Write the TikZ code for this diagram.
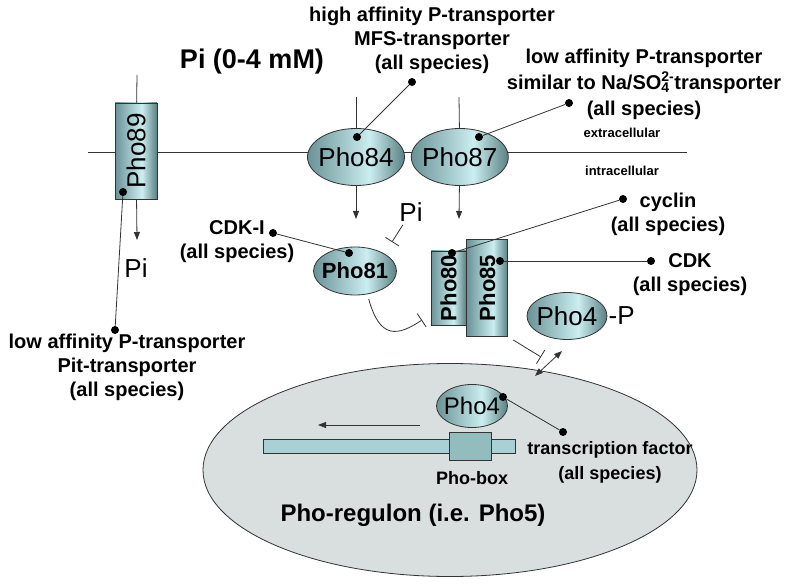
\documentclass[tikz,border=0pt]{standalone}
\usepackage{fontspec}
\setmainfont{Liberation Sans}
\usetikzlibrary{shapes.geometric,arrows.meta,positioning}
\definecolor{phoDark}{HTML}{6A9397}
\definecolor{phoLight}{HTML}{CBEEF0}
\definecolor{phoEdge}{HTML}{5A8083}
\definecolor{nucFill}{HTML}{D9DEDF}
\definecolor{dnaFill}{HTML}{A9D1D5}
\definecolor{boxFill}{HTML}{93BCBE}
\definecolor{lineGray}{HTML}{333333}
\pgfdeclarehorizontalshading{phoShade}{100bp}{color(0bp)=(phoDark); color(25bp)=(phoDark); color(57bp)=(phoLight); color(75bp)=(phoEdge); color(100bp)=(phoEdge)}
\tikzset{
    protein/.style = {draw=lineGray, ellipse, inner sep=0pt,
        shading=phoShade, line width=0.8pt},
    channel/.style = {draw=lineGray, rectangle, inner sep=0pt,
        shading=phoShade, line width=0.8pt},
    dot/.style = {circle, fill=black, inner sep=0pt, minimum size=8pt},
    lbl/.style = {align=center, font=\bfseries\fontsize{20}{24}\selectfont},
    big/.style = {font=\fontsize{26}{30}\selectfont},
    conn/.style = {draw=lineGray, line width=0.8pt},
    inhib/.style = {conn, -{Bar[width=16pt]}},
}

\begin{document}
\begin{tikzpicture}[x=1pt, y=-1pt, >={Triangle[length=8pt,width=6pt]}]
    \useasboundingbox (0,0) rectangle (800,585);
    % nucleus
    \node [draw=lineGray, fill=nucFill, ellipse, line width=0.8pt,
        minimum width=494pt, minimum height=213pt] (nucleus) at (450,470) {};

    % membrane
    \coordinate (memL) at (88,152);
    \coordinate (memR) at (687,152);
    \draw [conn] (memL) -- (memR);
    \coordinate (top89) at (137,75);
    \coordinate (top84) at (356,97);
    \coordinate (top87) at (459,97);

    % transporters
    \node [channel, minimum width=42pt, minimum height=96pt, big] (pho89) at (136,151) {\rotatebox{90}{Pho89}};
    \node [protein, minimum width=97pt, minimum height=57pt, label={[big]center:Pho84}] (pho84) at (356,157) {};
    \node [protein, minimum width=97pt, minimum height=57pt, label={[big]center:Pho87}, right=6pt of pho84] (pho87) {};
    \draw [conn] (top89) -- (pho89);
    \draw [conn] (top84) -- (pho84);
    \draw [conn] (top87) -- (pho87);

    % Pi inflow
    \coordinate (in89) at (137,240);
    \coordinate (in84) at (356,219);
    \coordinate (in87) at (459,219);
    \draw [conn,->] (pho89) -- (in89);
    \draw [conn,->] (pho84) -- (in84);
    \draw [conn,->] (pho87) -- (in87);
    \node [big] (pi89) at (136,268) {Pi};
    \node [lbl, font=\bfseries\fontsize{27}{30}\selectfont] (piOut) at (252,62) {Pi (0-4 mM)};
    \node [lbl, font=\bfseries\fontsize{13}{15}\selectfont] (extra) at (622,133) {extracellular};
    \node [lbl, font=\bfseries\fontsize{13}{15}\selectfont] (intra) at (622,171) {intracellular};

    % transporter labels
    \node [dot] (d89) at (123,192) {};
    \node [dot] (dPit) at (115,330) {};
    \draw [conn] (d89) -- (dPit);
    \node [lbl] (lPit) at (127,367) {low affinity P-transporter\\Pit-transporter\\(all species)};
    \node [dot] (d84) at (357,137) {};
    \node [dot] (dMFS) at (412,82) {};
    \draw [conn] (d84) -- (dMFS);
    \node [lbl] (lMFS) at (432,40) {high affinity P-transporter\\MFS-transporter\\(all species)};
    \node [dot] (d87) at (479,137) {};
    \node [dot] (dNa) at (569,103) {};
    \draw [conn] (d87) -- (dNa);
    \node [lbl, font=\bfseries\fontsize{20}{26}\selectfont] (lNa) at (644,84) {low affinity P-transporter\\similar to Na/SO\rlap{\textsubscript{4}}\textsuperscript{2-}transporter\\(all species)};

    % Pho81 and Pi
    \node [protein, minimum width=83pt, minimum height=48pt, label={[font=\bfseries\fontsize{22}{26}\selectfont]center:Pho81}] (pho81) at (355,271) {};
    \node [big] (piIn) at (411,212) {Pi};
    \coordinate (piBar) at (392,242);
    \draw [inhib] (piIn) -- (piBar);
    \node [dot] (d81) at (349,253) {};
    \node [dot] (dCDKI) at (273,233) {};
    \draw [conn] (d81) -- (dCDKI);
    \node [lbl] (lCDKI) at (237,242) {CDK-I\\(all species)};

    % Pho80 / Pho85 complex
    \node [channel, minimum width=35pt, minimum height=74pt, font=\bfseries\fontsize{22}{26}\selectfont] (pho80) at (448.5,288) {\rotatebox{90}{Pho80}};
    \node [channel, minimum width=41pt, minimum height=97pt, font=\bfseries\fontsize{22}{26}\selectfont, right=0pt of pho80] (pho85) {\rotatebox{90}{Pho85}};
    \coordinate (cBar) at (422,320);
    \draw [inhib, shorten <=5pt] (pho81.-62) .. controls (380,340) and (398,336) .. (cBar);
    \node [dot] (d80) at (452,253) {};
    \node [dot] (dCyc) at (623,199) {};
    \draw [conn] (d80) -- (dCyc);
    \node [lbl] (lCyc) at (668,214) {cyclin\\(all species)};
    \node [dot] (d85) at (500,261) {};
    \node [dot] (dCDK) at (651,261) {};
    \draw [conn] (d85) -- (dCDK);
    \node [lbl] (lCDK) at (690,275) {CDK\\(all species)};

    % phosphorylated Pho4
    \node [protein, minimum width=80pt, minimum height=47pt, label={[big]center:Pho4}] (pho4P) at (567,316) {};
    \node [big, inner sep=1pt, right=0pt of pho4P] (phosP) {-P};
    \coordinate (p4Bar) at (541,357);
    \draw [inhib, shorten <=6pt] (pho85.south east) -- (p4Bar);
    \coordinate (shuttleIn) at (535,376);
    \coordinate (shuttleOut) at (562,351);
    \draw [conn,<->] (shuttleIn) -- (shuttleOut);

    % inside the nucleus
    \node [draw=lineGray, fill=dnaFill, inner sep=0pt, minimum width=252pt, minimum height=14pt] (dna) at (389,446) {};
    \node [draw=lineGray, fill=boxFill, inner sep=0pt, minimum width=42pt, minimum height=28pt] (phobox) at (470,446) {};
    \node [protein, minimum width=71pt, minimum height=43pt, label={[font=\fontsize{24}{28}\selectfont]center:Pho4}] (pho4n) at (472,406) {};
    \node [lbl, font=\bfseries\fontsize{18}{22}\selectfont] (lBox) at (472,478) {Pho-box};
    \coordinate (txStart) at (420,425);
    \coordinate (txEnd) at (318,425);
    \draw [conn,->] (txStart) -- (txEnd);
    \node [dot] (d4) at (503,397) {};
    \node [dot] (dTF) at (563,432) {};
    \draw [conn] (d4) -- (dTF);
    \node [lbl, font=\bfseries\fontsize{18}{25}\selectfont] (lTF) at (610,462) {transcription factor\\(all species)};
    \node [lbl, font=\bfseries\fontsize{24}{28}\selectfont] (lReg) at (413,515) {Pho-regulon (i.e. Pho5)};
\end{tikzpicture}
\end{document}
